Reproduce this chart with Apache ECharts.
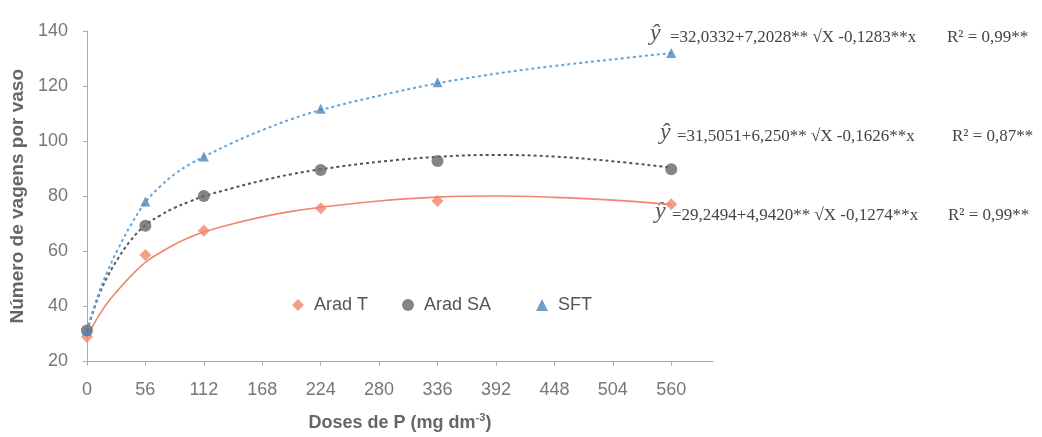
<!DOCTYPE html>
<html>
<head>
<meta charset="utf-8">
<script src="https://cdn.jsdelivr.net/npm/echarts@6/dist/echarts.min.js"></script>
<style>html,body{margin:0;padding:0;background:#fff}#c{width:1042px;height:437px}</style>
</head>
<body>
<div id="c"></div>
<script>
// Observed data (markers)
var doses = [0, 56, 112, 224, 336, 560];
var aradT = [28.9, 58.7, 67.5, 75.6, 78.3, 77.1];
var aradSA = [31.3, 69.3, 80.1, 89.5, 92.8, 89.8];
var sft = [31.3, 78.1, 94.4, 111.8, 121.4, 132];

// Fitted curves
var curveX = [0, 5, 12, 20, 30, 42, 56, 70, 84, 98, 112, 140, 168, 196, 224, 280, 336, 392, 448, 504, 560];
var curveT = [28.8, 32.5, 37, 41.5, 46, 51, 56, 59.5, 62.5, 65, 67, 70, 72.5, 74.5, 76, 78.3, 79.7, 80.1, 79.6, 78.6, 77];
var curveSA = [31, 37, 44.5, 51, 57.5, 64, 69.5, 73, 75.8, 78, 80, 83, 85.7, 88, 89.8, 92.5, 94.3, 95, 94.4, 92.7, 90.4];
var curveSFT = [31, 37.5, 45.5, 53, 61, 69.5, 77.8, 83.5, 88, 91.5, 94.3, 99.5, 104, 108, 111.3, 116.5, 121, 124.5, 127.3, 129.7, 132];

var xTicks = [0, 56, 112, 168, 224, 280, 336, 392, 448, 504, 560];
var seriesNames = ['Arad T', 'Arad SA', 'SFT'];
var equations = [
  '=32,0332+7,2028** \u221AX -0,1283**x',
  '=31,5051+6,250** \u221AX -0,1626**x',
  '=29,2494+4,9420** \u221AX -0,1274**x'
];
var r2 = ['R\u00B2 = 0,99**', 'R\u00B2 = 0,87**', 'R\u00B2 = 0,99**'];

function pairs(xs, ys) { return xs.map(function (x, i) { return [x, ys[i]]; }); }

var cOrange = '#f2866c', cGray = '#666666', cBlue = '#62a6dc', cBlueMk = '#4f86b8';
var sans = '"Liberation Sans", Arial, sans-serif';
var eqFont = '"Liberation Serif", "DejaVu Serif", serif';

var chart = echarts.init(document.getElementById('c'), null, {renderer: 'canvas'});
var eqY = [38, 137, 216], eqX = [670, 677, 672], yhX = [650, 660, 655], r2X = [947, 952, 948];
var graphics = [];
for (var i = 0; i < 3; i++) {
  graphics.push({type: 'text', left: yhX[i], top: eqY[i] - 16, style: {text: '\u0177', font: 'italic 24px ' + eqFont, fill: '#555'}});
  graphics.push({type: 'text', left: eqX[i], top: eqY[i] - 9, style: {text: equations[i], font: '17px ' + eqFont, fill: '#444'}});
  graphics.push({type: 'text', left: r2X[i], top: eqY[i] - 9, style: {text: r2[i], font: '17px ' + eqFont, fill: '#444'}});
}

var icons = ['diamond', 'circle', 'triangle'];
var legendLeft = [287, 397, 531];
var legends = seriesNames.map(function (n, i) {
  return {
    data: [{name: n, icon: icons[i]}],
    left: legendLeft[i], top: 291, itemWidth: 12, itemHeight: 12,
    textStyle: {fontFamily: sans, fontSize: 18, color: '#555', padding: [0, 0, 0, 5]}
  };
});

chart.setOption({
  animation: false,
  backgroundColor: '#fff',
  grid: {left: 86, top: 31, width: 627, height: 332, containLabel: false},
  legend: legends,
  xAxis: {
    type: 'value', min: 0, max: 600,
    name: 'Doses de P (mg dm{sup|-3})', nameLocation: 'middle', nameGap: 51,
    nameTextStyle: {fontFamily: sans, fontSize: 18, fontWeight: 'bold', color: '#666',
      rich: {sup: {fontFamily: sans, fontSize: 11, fontWeight: 'bold', color: '#666', verticalAlign: 'top', padding: [0, 0, 10, 0]}}},
    axisLine: {lineStyle: {color: '#aaa'}},
    axisTick: {customValues: xTicks, length: 4, lineStyle: {color: '#aaa'}},
    axisLabel: {customValues: xTicks, margin: 20, fontFamily: sans, fontSize: 18, color: '#777'},
    splitLine: {show: false}
  },
  yAxis: {
    type: 'value', min: 20, max: 140, interval: 20,
    name: 'Número de vagens por vaso', nameLocation: 'middle', nameGap: 55,
    nameTextStyle: {fontFamily: sans, fontSize: 19, fontWeight: 'bold', color: '#666'},
    axisLine: {show: true, lineStyle: {color: '#aaa'}},
    axisTick: {show: true, length: 4, lineStyle: {color: '#aaa'}},
    axisLabel: {margin: 19, fontFamily: sans, fontSize: 18, color: '#777'},
    splitLine: {show: false}
  },
  graphic: graphics,
  series: [
    {type: 'line', name: 'fitT', data: pairs(curveX, curveT), smooth: 0.4, showSymbol: false, symbol: 'none',
      lineStyle: {color: cOrange, width: 1.6, type: 'solid'}, z: 2},
    {type: 'line', name: 'fitSA', data: pairs(curveX, curveSA), smooth: 0.4, showSymbol: false, symbol: 'none',
      lineStyle: {color: '#555', width: 2, type: [3, 3]}, z: 2},
    {type: 'line', name: 'fitSFT', data: pairs(curveX, curveSFT), smooth: 0.4, showSymbol: false, symbol: 'none',
      lineStyle: {color: cBlue, width: 2, type: [3, 3]}, z: 2},
    {type: 'scatter', name: seriesNames[0], data: pairs(doses, aradT), symbol: 'diamond', symbolSize: 12,
      itemStyle: {color: cOrange}, z: 5},
    {type: 'scatter', name: seriesNames[1], data: pairs(doses, aradSA), symbol: 'circle', symbolSize: 12,
      itemStyle: {color: cGray}, z: 5},
    {type: 'scatter', name: seriesNames[2], data: pairs(doses, sft), symbol: 'triangle', symbolSize: 10,
      itemStyle: {color: cBlueMk}, z: 6}
  ]
});
</script>
</body>
</html>
